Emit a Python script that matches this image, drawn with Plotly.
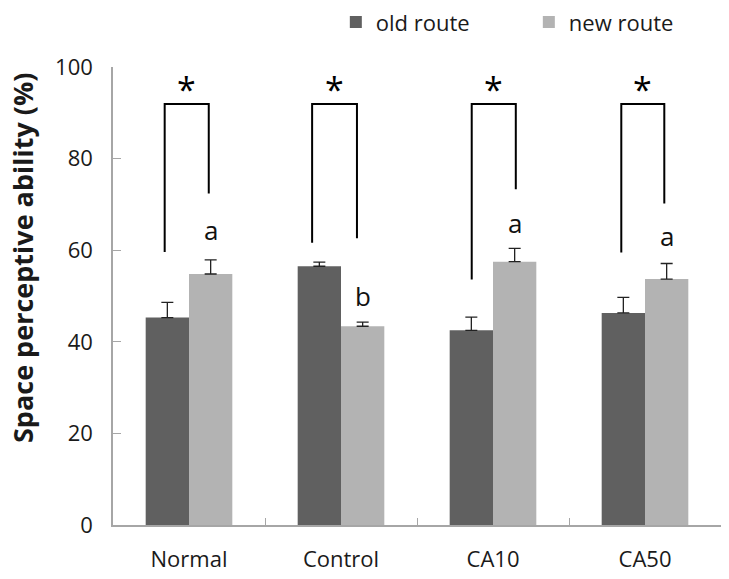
import plotly.graph_objects as go

categories = ["Normal", "Control", "CA10", "CA50"]
old_route = [45.3, 56.5, 42.5, 46.3]
old_se = [3.3, 0.9, 2.9, 3.4]
new_route = [54.8, 43.4, 57.5, 53.7]
new_se = [3.1, 0.9, 2.9, 3.4]

# significance brackets (value units) and offsets from category centre
bracket_top = [91.9, 91.9, 91.9, 91.9]
bracket_left_bottom = [59.6, 61.6, 53.6, 59.5]
bracket_right_bottom = [72.4, 62.6, 73.3, 70.2]
bracket_left_off = [-0.16, -0.19, -0.14, -0.156]
bracket_right_off = [0.13, 0.105, 0.15, 0.127]
star_labels = ["*", "*", "*", "*"]
letters = ["a", "b", "a", "a"]
letter_y = [64.4, 50.1, 65.9, 63.2]
y_title = "Space perceptive ability (%)"

FONT = "Open Sans"
OLD_C = "#606060"
NEW_C = "#b3b3b3"
AX_C = "#a6a6a6"

fig = go.Figure()
fig.add_trace(go.Bar(
    x=categories, y=old_route, name="old route", marker_color=OLD_C,
    marker_line_width=0,
    error_y=dict(type="data", array=old_se, symmetric=False, arrayminus=[0]*4,
                 color="#222222", thickness=1.3, width=6)))
fig.add_trace(go.Bar(
    x=categories, y=new_route, name="new route", marker_color=NEW_C,
    marker_line_width=0,
    error_y=dict(type="data", array=new_se, symmetric=False, arrayminus=[0]*4,
                 color="#222222", thickness=1.3, width=6)))

shapes = []
annotations = []
for i in range(len(categories)):
    xl = i + bracket_left_off[i]
    xr = i + bracket_right_off[i]
    path = (f"M {xl},{bracket_left_bottom[i]} L {xl},{bracket_top[i]} "
            f"L {xr},{bracket_top[i]} L {xr},{bracket_right_bottom[i]}")
    shapes.append(dict(type="path", xref="x", yref="y", path=path,
                       line=dict(color="black", width=2)))
    annotations.append(dict(x=(xl + xr) / 2, y=bracket_top[i], xref="x", yref="y",
                            text=star_labels[i], showarrow=False, yanchor="bottom",
                            yshift=-10,
                            font=dict(family=FONT, size=34, color="black")))
    annotations.append(dict(x=i + 0.1425, y=letter_y[i], xref="x", yref="y",
                            text=letters[i], showarrow=False, yanchor="middle",
                            font=dict(family=FONT, size=26, color="#111111")))

# y-axis title (placed as in the reference, slightly above centre)
annotations.append(dict(x=-0.148, y=0.583, xref="paper", yref="paper",
                        text=f"<b>{y_title}</b>", textangle=-90, showarrow=False,
                        xanchor="center", yanchor="middle",
                        font=dict(family=FONT, size=27, color="#1a1a1a")))

fig.update_layout(
    width=729, height=579,
    margin=dict(l=113, r=8, t=67, b=54, autoexpand=False),
    paper_bgcolor="white", plot_bgcolor="white",
    barmode="group", bargap=0.43, bargroupgap=0,
    font=dict(family=FONT, size=22, color="#1a1a1a"),
    showlegend=True,
    legend=dict(orientation="h", x=0.3665, xanchor="left", y=1.098, yanchor="middle",
                font=dict(family=FONT, size=22, color="#1a1a1a"),
                entrywidth=148, itemclick=False),
    shapes=shapes,
    annotations=annotations,
)
fig.update_xaxes(
    type="category", range=[-0.5, 3.5], showline=True, linecolor=AX_C, linewidth=1.5,
    ticks="inside", tickson="boundaries", ticklen=7, tickcolor=AX_C,
    showgrid=False, zeroline=False, ticklabelstandoff=14, automargin=False,
    tickfont=dict(family=FONT, size=22, color="#1a1a1a"))
fig.update_yaxes(
    range=[0, 100], tickvals=[0, 20, 40, 60, 80, 100], showline=True, linecolor=AX_C,
    linewidth=1.5, ticks="inside", ticklen=8, tickcolor=AX_C, showgrid=False,
    zeroline=False, ticklabelstandoff=14, automargin=False,
    tickfont=dict(family=FONT, size=22, color="#1a1a1a"))

fig.write_html("out.html", config={"displayModeBar": False},
               post_script="document.body.style.margin='0px';document.body.style.overflow='hidden';")
